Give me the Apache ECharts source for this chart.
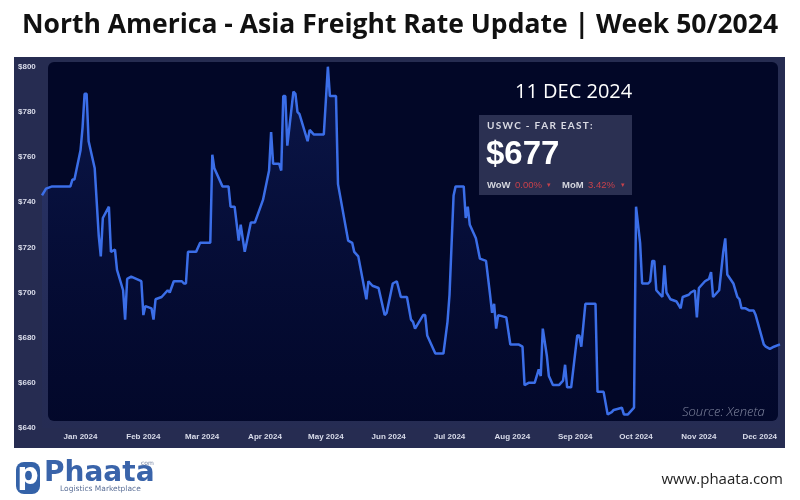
<!DOCTYPE html>
<html>
<head>
<meta charset="utf-8">
<script src="https://cdn.jsdelivr.net/npm/echarts@6/dist/echarts.min.js"></script>
<style>
html,body{margin:0;padding:0;background:#ffffff;}
#chart{width:800px;height:500px;}
</style>
</head>
<body>
<div id="chart"></div>
<script>
const titleText = 'North America - Asia Freight Rate Update | Week 50/2024';
const routeLabel = 'USWC - FAR EAST:';
const reportDate = '11 DEC 2024';
const currentRate = '$677';
const wowChange = '0.00%';
const momChange = '3.42%';
const sourceText = 'Source: Xeneta';
const yTicks = [640, 660, 680, 700, 720, 740, 760, 780, 800];

const dates = [
 '2023-12-13','2023-12-15','2023-12-18','2023-12-27','2023-12-28','2023-12-29',
 '2024-01-01','2024-01-02','2024-01-03','2024-01-04','2024-01-05','2024-01-08','2024-01-10','2024-01-11','2024-01-12',
 '2024-01-15','2024-01-16','2024-01-18','2024-01-19','2024-01-22','2024-01-23','2024-01-24','2024-01-26','2024-01-31',
 '2024-02-01','2024-02-02','2024-02-05','2024-02-06','2024-02-07','2024-02-10','2024-02-13','2024-02-14','2024-02-16',
 '2024-02-20','2024-02-21','2024-02-22','2024-02-23','2024-02-27','2024-02-29',
 '2024-03-05','2024-03-06','2024-03-07','2024-03-11','2024-03-14','2024-03-15','2024-03-17','2024-03-19','2024-03-20',
 '2024-03-22','2024-03-25','2024-03-27','2024-03-31',
 '2024-04-03','2024-04-04','2024-04-05','2024-04-08','2024-04-09','2024-04-10','2024-04-11','2024-04-12','2024-04-15',
 '2024-04-16','2024-04-17','2024-04-18','2024-04-22','2024-04-23','2024-04-25','2024-04-30',
 '2024-05-02','2024-05-03','2024-05-06','2024-05-07','2024-05-12','2024-05-14','2024-05-15','2024-05-17','2024-05-21',
 '2024-05-22','2024-05-24','2024-05-27','2024-05-28','2024-05-30','2024-05-31',
 '2024-06-03','2024-06-05','2024-06-07','2024-06-10','2024-06-12','2024-06-13','2024-06-14','2024-06-18','2024-06-19',
 '2024-06-20','2024-06-24','2024-06-28','2024-06-30',
 '2024-07-01','2024-07-03','2024-07-04','2024-07-08','2024-07-09','2024-07-10','2024-07-11','2024-07-14','2024-07-16',
 '2024-07-19','2024-07-21','2024-07-22','2024-07-23','2024-07-24','2024-07-25','2024-07-29','2024-07-31',
 '2024-08-04','2024-08-06','2024-08-07','2024-08-09','2024-08-12','2024-08-14','2024-08-15','2024-08-16','2024-08-18',
 '2024-08-19','2024-08-21','2024-08-24','2024-08-26','2024-08-27','2024-08-28','2024-08-30',
 '2024-09-02','2024-09-03','2024-09-04','2024-09-06','2024-09-11','2024-09-12','2024-09-15','2024-09-17','2024-09-19',
 '2024-09-20','2024-09-24','2024-09-25','2024-09-27','2024-09-30',
 '2024-10-01','2024-10-03','2024-10-04','2024-10-07','2024-10-08','2024-10-09','2024-10-10','2024-10-11','2024-10-14',
 '2024-10-15','2024-10-16','2024-10-18','2024-10-21','2024-10-23','2024-10-24','2024-10-27','2024-10-28','2024-10-30','2024-10-31',
 '2024-11-01','2024-11-04','2024-11-06','2024-11-07','2024-11-08','2024-11-11','2024-11-13','2024-11-14','2024-11-15',
 '2024-11-18','2024-11-20','2024-11-21','2024-11-22','2024-11-24','2024-11-26','2024-11-28','2024-11-29',
 '2024-12-03','2024-12-04','2024-12-06','2024-12-08','2024-12-11'
];
const rates = [
 743,746,747,747,750,750,
 763,773,788,788,767,755,725,716,733,
 738,718,719,710,701,688,706,707,705,
 690,694,693,688,697,698,701,700,705,
 705,704,704,718,718,722,
 722,761,755,747,747,738,738,723,730,
 718,731,731,741,
 754,771,757,757,754,787,787,765,789,
 788,780,779,767,772,770,770,
 800,787,787,748,723,722,718,716,697,
 705,703,702,698,690,691,
 704,705,698,698,688,687,684,690,690,
 681,673,673,687,
 699,743,747,747,733,738,730,724,715,
 714,699,691,695,684,690,689,677,
 677,676,659,660,660,666,663,684,672,
 663,659,659,661,668,658,658,
 681,681,676,695,695,656,656,646,647,
 648,649,646,646,649,
 738,722,704,704,705,714,714,701,698,
 712,700,697,696,693,698,699,700,701,689,
 702,705,706,709,698,701,718,724,708,
 704,698,697,693,693,692,692,690,
 677,676,675,676,677
];

const chart = echarts.init(document.getElementById('chart'), null, {renderer: 'canvas'});
const seriesData = dates.map((d, i) => [d, rates[i]]);
const axisFont = '"Liberation Sans", Arial, sans-serif';

const option = {
  animation: false,
  backgroundColor: '#ffffff',
  grid: {left: 42, right: 20, top: 66.7, bottom: 72, containLabel: false, outerBoundsMode: 'none'},
  xAxis: {
    type: 'time',
    min: dates[0],
    max: dates[dates.length - 1],
    splitNumber: 12,
    minInterval: 28 * 86400000,
    maxInterval: 31 * 86400000,
    axisLine: {show: false},
    axisTick: {show: false},
    splitLine: {show: false},
    axisLabel: {
      formatter: '{MMM} {yyyy}',
      color: '#d9dcea', fontSize: 8, fontWeight: 'bold', fontFamily: axisFont,
      margin: 5, hideOverlap: false
    }
  },
  yAxis: {
    type: 'value',
    min: yTicks[0], max: yTicks[yTicks.length - 1], interval: 20,
    axisLine: {show: false},
    axisTick: {show: false},
    splitLine: {show: false},
    axisLabel: {
      formatter: '${value}', align: 'left', margin: 24,
      color: '#d9dcea', fontSize: 8, fontWeight: 'bold', fontFamily: axisFont
    }
  },
  series: [{
    type: 'line',
    data: seriesData,
    showSymbol: false,
    symbol: 'none',
    z: 5,
    lineStyle: {color: '#3b6ee8', width: 2.5},
    areaStyle: {
      origin: 'start',
      color: new echarts.graphic.LinearGradient(0, 0, 0, 1, [
        {offset: 0, color: 'rgba(50,90,220,0.28)'},
        {offset: 1, color: 'rgba(20,40,150,0.04)'}
      ])
    }
  }],
  graphic: [
    {type: 'rect', z: -20, silent: true, shape: {x: 14, y: 57, width: 771, height: 391}, style: {fill: '#262c51'}},
    {type: 'rect', z: -19, silent: true, shape: {x: 48, y: 62, width: 730, height: 359, r: 6}, style: {fill: '#020727'}},
    {type: 'text', z: 10, x: 400, y: 25, style: {text: titleText, fill: '#111111', font: 'bold 26.5px "Open Sans", sans-serif', align: 'center', verticalAlign: 'middle'}},
    {type: 'text', z: 10, x: 515, y: 92, style: {text: reportDate, fill: '#ffffff', font: '20px "Open Sans", sans-serif', verticalAlign: 'middle'}},
    {type: 'rect', z: 10, shape: {x: 479, y: 115, width: 153, height: 80}, style: {fill: '#2b3052'}},
    {type: 'text', z: 11, x: 487, y: 126, style: {text: routeLabel.split('').join('\u2009'), fill: '#d9dae4', font: 'bold 10px Lato, sans-serif', verticalAlign: 'middle'}},
    {type: 'text', z: 11, x: 486, y: 155, style: {text: currentRate, fill: '#ffffff', font: 'bold 33px "Liberation Sans", Arial, sans-serif', verticalAlign: 'middle'}},
    {type: 'text', z: 11, x: 487, y: 185, style: {text: 'WoW', fill: '#d4d5de', font: 'bold 9.5px "Liberation Sans", Arial, sans-serif', verticalAlign: 'middle'}},
    {type: 'text', z: 11, x: 515, y: 185, style: {text: wowChange, fill: '#c8414b', font: '9.5px "Liberation Sans", Arial, sans-serif', verticalAlign: 'middle'}},
    {type: 'text', z: 11, x: 547, y: 185, style: {text: '\u25BE', fill: '#c8414b', font: '7px "DejaVu Sans", sans-serif', verticalAlign: 'middle'}},
    {type: 'text', z: 11, x: 562, y: 185, style: {text: 'MoM', fill: '#d4d5de', font: 'bold 9.5px "Liberation Sans", Arial, sans-serif', verticalAlign: 'middle'}},
    {type: 'text', z: 11, x: 588, y: 185, style: {text: momChange, fill: '#c8414b', font: '9.5px "Liberation Sans", Arial, sans-serif', verticalAlign: 'middle'}},
    {type: 'text', z: 11, x: 621, y: 185, style: {text: '\u25BE', fill: '#c8414b', font: '7px "DejaVu Sans", sans-serif', verticalAlign: 'middle'}},
    {type: 'text', z: 10, x: 682, y: 412, style: {text: sourceText, fill: '#80869f', font: 'italic 300 13px "Open Sans", sans-serif', verticalAlign: 'middle'}},
    {type: 'rect', z: 10, shape: {x: 16, y: 462, width: 24, height: 32, r: 8}, style: {fill: '#3462a8'}},
    {type: 'text', z: 11, x: 28, y: 476, style: {text: 'p', fill: '#ffffff', font: 'bold 30px "DejaVu Sans", sans-serif', align: 'center', verticalAlign: 'middle'}},
    {type: 'text', z: 10, x: 44, y: 474, style: {text: 'Phaata', fill: '#3a64aa', font: 'bold 28px "DejaVu Sans", sans-serif', verticalAlign: 'middle'}},
    {type: 'text', z: 10, x: 141, y: 463, style: {text: 'com', fill: '#6f7f9f', font: '6px "DejaVu Sans", sans-serif', verticalAlign: 'middle'}},
    {type: 'text', z: 10, x: 60, y: 489, style: {text: 'Logistics Marketplace', fill: '#5a6e96', font: '7.5px "DejaVu Sans", sans-serif', verticalAlign: 'middle'}},
    {type: 'text', z: 10, x: 783, y: 480, style: {text: 'www.phaata.com', fill: '#222222', font: '15px "Open Sans", sans-serif', align: 'right', verticalAlign: 'middle'}}
  ]
};
chart.setOption(option);
</script>
</body>
</html>
